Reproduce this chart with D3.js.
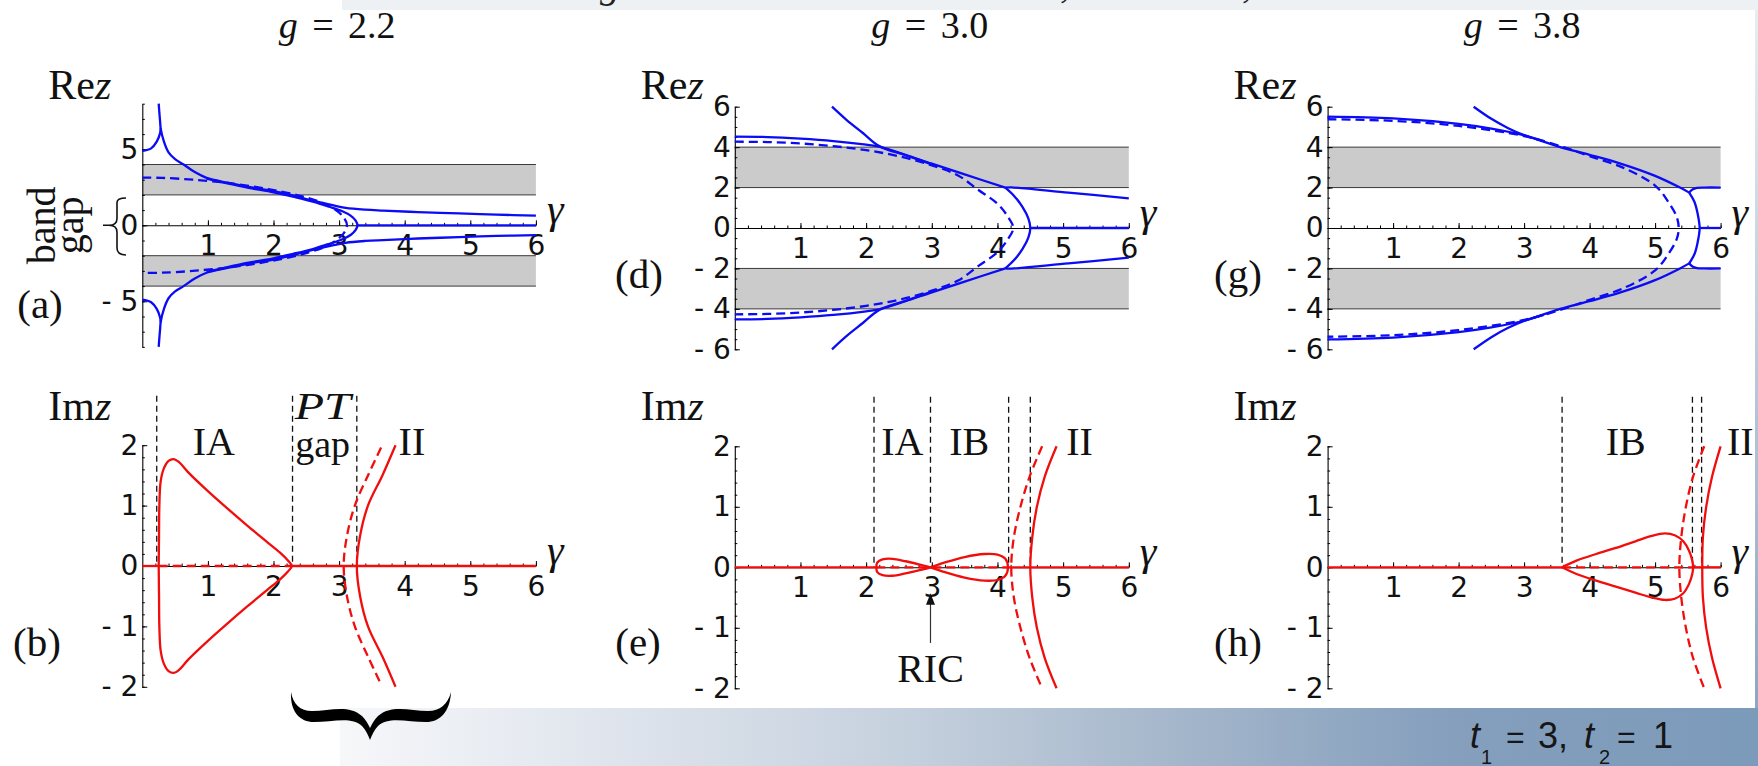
<!DOCTYPE html>
<html>
<head>
<meta charset="utf-8">
<script src="https://cdn.jsdelivr.net/npm/d3@7"></script>
<style>
  html, body { margin: 0; padding: 0; background: #fff; }
  svg { display: block; }
</style>
</head>
<body>
<svg id="fig" width="1758" height="766"></svg>
<script>
// ---------- data ----------
const gammaTicks = [1, 2, 3, 4, 5, 6];
const couplings = ["2.2", "3.0", "3.8"];
const bandLimits = [[2, 4], [-4, -2]];          // shaded continuum bands in Re z
const reTicksA = [-5, 0, 5];
const reTicksDG = [-6, -4, -2, 0, 2, 4, 6];
const imTicks = [-2, -1, 0, 1, 2];

// (a) g = 2.2, Re z
const aCuspUpper = [[0, 4.89], [0.135, 5.06], [0.22, 5.5], [0.27, 6.05], [0.28, 6.38]];
const aCuspLower = [[0, -4.89], [0.135, -5.06], [0.22, -5.5], [0.27, -6.05], [0.28, -6.38]];
const aBranchUpper = [[0.25, 8.0], [0.262, 7.3], [0.272, 6.8], [0.28, 6.38], [0.33, 5.5], [0.40, 4.8], [0.5, 4.35], [0.63, 4.0], [0.8, 3.5], [0.98, 3.12], [1.3, 2.8], [1.62, 2.52], [2.0, 2.25], [2.26, 2.0], [2.6, 1.62], [2.9, 1.32], [3.1, 1.15], [3.4, 1.03], [3.67, 0.97], [4.2, 0.87], [4.83, 0.78], [5.4, 0.7], [6.0, 0.64]];
const aBranchLower = [[0.25, -8.0], [0.262, -7.3], [0.272, -6.8], [0.28, -6.38], [0.33, -5.5], [0.40, -4.8], [0.5, -4.35], [0.63, -4.0], [0.8, -3.5], [0.98, -3.12], [1.3, -2.8], [1.62, -2.52], [2.0, -2.25], [2.26, -2.0], [2.6, -1.62], [2.9, -1.32], [3.1, -1.15], [3.4, -1.03], [3.67, -0.97], [4.2, -0.87], [4.83, -0.78], [5.4, -0.7], [6.0, -0.64]];
const aLoop = [[0.98, 3.07], [1.3, 2.75], [1.62, 2.46], [2.0, 2.17], [2.3, 1.88], [2.6, 1.56], [2.85, 1.22], [3.05, 0.92], [3.18, 0.62], [3.25, 0.32], [3.28, 0], [3.25, -0.32], [3.18, -0.62], [3.05, -0.92], [2.85, -1.22], [2.6, -1.56], [2.3, -1.88], [2.0, -2.17], [1.62, -2.46], [1.3, -2.75], [0.98, -3.07]];
const aDashed = [[0, 3.13], [0.3, 3.12], [0.77, 3.0], [1.33, 2.77], [1.92, 2.38], [2.44, 1.9], [2.85, 1.28], [3.06, 0.58], [3.12, 0], [3.06, -0.58], [2.85, -1.28], [2.44, -1.9], [1.92, -2.38], [1.33, -2.77], [0.77, -3.0], [0.3, -3.12], [0, -3.13]];
const aZero = [[3.28, 0], [6, 0]];

// (d) g = 3.0, Re z
const dOuterUpper = [[0, 4.52], [0.5, 4.5], [1.0, 4.42], [1.5, 4.3], [2.0, 4.12], [2.2, 4.02], [2.6, 3.62], [3.0, 3.18], [3.5, 2.65], [4.12, 2.0]];
const dOuterLower = [[0, -4.52], [0.5, -4.5], [1.0, -4.42], [1.5, -4.3], [2.0, -4.12], [2.2, -4.02], [2.6, -3.62], [3.0, -3.18], [3.5, -2.65], [4.12, -2.0]];
const dSteepUpper = [[1.48, 6.0], [1.7, 5.35], [1.95, 4.7], [2.2, 4.05], [2.6, 3.6], [3.0, 3.15]];
const dSteepLower = [[1.48, -6.0], [1.7, -5.35], [1.95, -4.7], [2.2, -4.05], [2.6, -3.6], [3.0, -3.15]];
const dTailUpper = [[4.12, 2.0], [4.21, 2.01], [5.08, 1.75], [6.0, 1.47]];
const dTailLower = [[4.12, -2.0], [4.21, -2.01], [5.08, -1.75], [6.0, -1.47]];
const dTurn = [[4.12, 2.0], [4.25, 1.6], [4.38, 1.05], [4.47, 0.48], [4.5, 0], [4.47, -0.48], [4.38, -1.05], [4.25, -1.6], [4.12, -2.0]];
const dDashed = [[0, 4.27], [0.5, 4.25], [1, 4.18], [1.5, 4.05], [2, 3.85], [2.5, 3.55], [3, 3.1], [3.4, 2.6], [3.7, 1.9], [4.0, 1.2], [4.15, 0.6], [4.24, 0], [4.15, -0.6], [4.0, -1.2], [3.7, -1.9], [3.4, -2.6], [3, -3.1], [2.5, -3.55], [2, -3.85], [1.5, -4.05], [1, -4.18], [0.5, -4.25], [0, -4.27]];
const dZero = [[4.5, 0], [6, 0]];

// (g) g = 3.8, Re z
const gOuterUpper = [[0, 5.51], [1, 5.42], [2, 5.15], [2.5, 4.92], [2.98, 4.6], [3.55, 4.0], [4.0, 3.62], [4.46, 3.2], [5.0, 2.58], [5.38, 2.0], [5.52, 1.75]];
const gOuterLower = [[0, -5.51], [1, -5.42], [2, -5.15], [2.5, -4.92], [2.98, -4.6], [3.55, -4.0], [4.0, -3.62], [4.46, -3.2], [5.0, -2.58], [5.38, -2.0], [5.52, -1.75]];
const gSteepUpper = [[2.23, 6.0], [2.5, 5.4], [2.75, 4.95], [2.98, 4.62], [3.3, 4.3]];
const gSteepLower = [[2.23, -6.0], [2.5, -5.4], [2.75, -4.95], [2.98, -4.62], [3.3, -4.3]];
const gTurn = [[5.52, 1.75], [5.6, 1.3], [5.65, 0.7], [5.68, 0], [5.65, -0.7], [5.6, -1.3], [5.52, -1.75]];
const gTailUpper = [[5.52, 1.75], [5.57, 1.9], [5.64, 1.98], [5.75, 2.0], [6, 2.0]];
const gTailLower = [[5.52, -1.75], [5.57, -1.9], [5.64, -1.98], [5.75, -2.0], [6, -2.0]];
const gDashed = [[0, 5.38], [1, 5.3], [2, 5.05], [3, 4.55], [3.6, 4.0], [4.0, 3.55], [4.5, 3.0], [5.0, 2.1], [5.2, 1.3], [5.33, 0.55], [5.36, 0], [5.33, -0.55], [5.2, -1.3], [5.0, -2.1], [4.5, -3.0], [4.0, -3.55], [3.6, -4.0], [3, -4.55], [2, -5.05], [1, -5.3], [0, -5.38]];
const gZero = [[5.68, 0], [6, 0]];

// (b) g = 2.2, Im z
const bLoop = [[0.25, 0], [0.255, 0.5], [0.26, 1.0], [0.28, 1.4], [0.33, 1.62], [0.4, 1.74], [0.48, 1.77], [0.56, 1.72], [0.7, 1.55], [1.0, 1.24], [1.3, 0.95], [1.6, 0.67], [1.9, 0.4], [2.1, 0.22], [2.22, 0.09], [2.28, 0], [2.22, -0.09], [2.1, -0.22], [1.9, -0.4], [1.6, -0.67], [1.3, -0.95], [1.0, -1.24], [0.7, -1.55], [0.56, -1.72], [0.48, -1.77], [0.4, -1.74], [0.33, -1.62], [0.28, -1.4], [0.26, -1.0], [0.255, -0.5], [0.25, 0]];
const bOuter = [[3.86, 2.0], [3.66, 1.5], [3.44, 1.0], [3.32, 0.5], [3.27, 0], [3.32, -0.5], [3.44, -1.0], [3.66, -1.5], [3.86, -2.0]];
const bDashed = [[3.64, 1.96], [3.44, 1.5], [3.24, 1.0], [3.12, 0.5], [3.07, 0], [3.12, -0.5], [3.24, -1.0], [3.44, -1.5], [3.64, -1.96]];
const bRealSolid = [[[0, 0], [0.25, 0]], [[2.28, 0], [6, 0]]];
const bRealDashed = [[0.25, 0], [2.28, 0]];
const bBoundaries = [0.22, 2.29, 3.27];

// (e) g = 3.0, Im z
const eLoop = [[2.98, 0], [2.8, 0.05], [2.6, 0.1], [2.4, 0.14], [2.25, 0.13], [2.17, 0.08], [2.155, 0], [2.17, -0.08], [2.25, -0.13], [2.4, -0.14], [2.6, -0.1], [2.8, -0.05], [2.98, 0], [3.2, 0.08], [3.5, 0.17], [3.8, 0.22], [4.0, 0.21], [4.12, 0.14], [4.16, 0], [4.12, -0.14], [4.0, -0.21], [3.8, -0.22], [3.5, -0.17], [3.2, -0.08], [2.98, 0]];
const eOuter = [[4.9, 2.0], [4.72, 1.5], [4.6, 1.0], [4.53, 0.5], [4.5, 0], [4.53, -0.5], [4.6, -1.0], [4.72, -1.5], [4.9, -2.0]];
const eDashed = [[4.68, 2.0], [4.49, 1.5], [4.35, 1.0], [4.25, 0.5], [4.21, 0], [4.25, -0.5], [4.35, -1.0], [4.49, -1.5], [4.68, -2.0]];
const eRealSolid = [[[0, 0], [2.155, 0]], [[4.16, 0], [6, 0]]];
const eRealDashed = [[2.155, 0], [4.16, 0]];
const eBoundaries = [2.12, 2.98, 4.17, 4.5];
const ricPoint = 2.98;

// (h) g = 3.8, Im z
const hLoop = [[3.58, 0], [3.8, 0.11], [4.1, 0.22], [4.4, 0.32], [4.7, 0.43], [4.95, 0.52], [5.15, 0.56], [5.3, 0.53], [5.43, 0.43], [5.52, 0.27], [5.57, 0.1], [5.58, 0], [5.57, -0.1], [5.52, -0.27], [5.43, -0.43], [5.3, -0.52], [5.15, -0.54], [4.95, -0.5], [4.7, -0.42], [4.4, -0.32], [4.1, -0.22], [3.8, -0.11], [3.58, 0]];
const hOuter = [[6.0, 2.0], [5.87, 1.5], [5.78, 1.0], [5.73, 0.5], [5.72, 0], [5.73, -0.5], [5.78, -1.0], [5.87, -1.5], [6.0, -2.0]];
const hDashed = [[5.75, 2.0], [5.58, 1.5], [5.47, 1.0], [5.40, 0.5], [5.37, 0], [5.40, -0.5], [5.47, -1.0], [5.58, -1.5], [5.75, -2.0]];
const hRealSolid = [[[0, 0], [3.58, 0]], [[5.58, 0], [6, 0]]];
const hRealDashed = [[3.58, 0], [5.58, 0]];
const hBoundaries = [3.58, 5.57, 5.71];

const boundaryTop = 2.82;

// ---------- styling ----------
const BLUE = "#0b0bf5";
const RED = "#f20d0d";
const SERIF = "'Liberation Serif', 'DejaVu Serif', serif";
const SANS = "'DejaVu Sans', sans-serif";
const LW = 2.3;

const svg = d3.select("#fig");
const defs = svg.append("defs");

// slide background: gradient band along the bottom and strip on the right
const bandGrad = defs.append("linearGradient").attr("id", "bottomBand")
  .attr("x1", "0").attr("x2", "1").attr("y1", "0").attr("y2", "0");
[[0, "#f6f7f9"], [0.176, "#e1e6ee"], [0.395, "#c6d1de"], [0.6, "#a3b5ca"], [0.783, "#859fbd"], [1, "#7c9aba"]]
  .forEach(([o, c]) => bandGrad.append("stop").attr("offset", o).attr("stop-color", c));
const sideGrad = defs.append("linearGradient").attr("id", "sideBand")
  .attr("x1", "0").attr("x2", "0").attr("y1", "0").attr("y2", "1");
[[0, "#e8edf2"], [1, "#8ea6c2"]].forEach(([o, c]) => sideGrad.append("stop").attr("offset", o).attr("stop-color", c));

svg.append("rect").attr("x", 0).attr("y", 0).attr("width", 1758).attr("height", 766).attr("fill", "#fff");
svg.append("rect").attr("x", 340).attr("y", 708).attr("width", 1418).attr("height", 58).attr("fill", "url(#bottomBand)");

// strip of the slide heading above the figure
svg.append("rect").attr("x", 342).attr("y", 0).attr("width", 1416).attr("height", 10).attr("fill", "#eef1f4");
defs.append("clipPath").attr("id", "headClip").append("rect")
  .attr("x", 342).attr("y", 0).attr("width", 1416).attr("height", 10);
const head = svg.append("g").attr("clip-path", "url(#headClip)")
  .attr("font-family", SERIF).attr("font-size", 40).attr("fill", "#222");
head.append("text").attr("x", 600).attr("y", -3).attr("font-style", "italic").text("g");
head.append("text").attr("x", 1060).attr("y", -3).text(",");
head.append("text").attr("x", 1242).attr("y", -3).text(",");

// ---------- panel helpers ----------
const cols = [[142.3, 535.9], [734.8, 1128.8], [1327.6, 1720.6]];
const fmt = d => d < 0 ? "- " + Math.abs(d) : String(d);

function makePanel(col, yDomain, yRange, majorY, minorStep) {
  const x = d3.scaleLinear().domain([0, 6]).range(cols[col]);
  const y = d3.scaleLinear().domain(yDomain).range(yRange);
  const g = svg.append("g");
  const p = { x, y, g, bg: g.append("g") };
  p.axes = g.append("g");
  p.fg = g.append("g");

  // y axis: minor ticks, then labelled ticks
  const minorY = d3.range(yDomain[0], yDomain[1] + 1e-9, minorStep);
  p.axes.append("g").attr("transform", `translate(${x(0)},0)`)
    .call(d3.axisLeft(y).tickValues(minorY).tickSize(-2.5).tickFormat(""))
    .call(s => s.select(".domain").remove());
  const ya = p.axes.append("g").attr("transform", `translate(${x(0)},0)`)
    .call(d3.axisLeft(y).tickValues(majorY).tickSize(-5).tickSizeOuter(0).tickPadding(4).tickFormat(fmt));
  // gamma axis along zero
  const minorX = d3.range(0.2, 6 + 1e-9, 0.2);
  p.axes.append("g").attr("transform", `translate(0,${y(0)})`)
    .call(d3.axisBottom(x).tickValues(minorX).tickSize(-2.5).tickFormat(""))
    .call(s => s.select(".domain").remove());
  const xa = p.axes.append("g").attr("transform", `translate(0,${y(0)})`)
    .call(d3.axisBottom(x).tickValues(gammaTicks).tickSize(-5).tickSizeOuter(0).tickPadding(10).tickFormat(d3.format("d")));
  [ya, xa].forEach(a => {
    a.attr("font-family", SANS).attr("font-size", 28);
    a.selectAll("text").attr("fill", "#111");
  });
  p.axes.selectAll("line").attr("stroke", "#000").attr("stroke-width", 1);
  p.axes.selectAll(".domain").attr("stroke", "#000").attr("stroke-width", 1.1);
  return p;
}

const lineGen = p => d3.line().x(d => p.x(d[0])).y(d => p.y(d[1])).curve(d3.curveCatmullRom.alpha(0.5));
const straight = p => d3.line().x(d => p.x(d[0])).y(d => p.y(d[1]));

function curve(p, pts, color, dashed) {
  p.fg.append("path").datum(pts).attr("d", lineGen(p))
    .attr("fill", "none").attr("stroke", color).attr("stroke-width", LW)
    .attr("stroke-linejoin", "round")
    .attr("stroke-dasharray", dashed ? "9,5" : null);
}
function segment(p, pts, color, dashed) {
  p.fg.append("path").datum(pts).attr("d", straight(p))
    .attr("fill", "none").attr("stroke", color).attr("stroke-width", LW)
    .attr("stroke-dasharray", dashed ? "9,5" : null);
}

function shadeBands(p) {
  bandLimits.forEach(([lo, hi]) => {
    p.bg.append("rect").attr("x", p.x(0)).attr("y", p.y(hi))
      .attr("width", p.x(6) - p.x(0)).attr("height", p.y(lo) - p.y(hi)).attr("fill", "#cbcbcb");
    [lo, hi].forEach(v => p.bg.append("line")
      .attr("x1", p.x(0)).attr("x2", p.x(6)).attr("y1", p.y(v)).attr("y2", p.y(v))
      .attr("stroke", "#3a3a3a").attr("stroke-width", 1));
  });
}

function boundaries(p, list) {
  list.forEach(b => p.bg.append("line")
    .attr("x1", p.x(b)).attr("x2", p.x(b)).attr("y1", p.y(boundaryTop)).attr("y2", p.y(0))
    .attr("stroke", "#111").attr("stroke-width", 1.3).attr("stroke-dasharray", "6,4"));
}

function axisTitle(p, kind, base) {
  const t = p.g.append("text").attr("x", p.x(0) - 94).attr("y", base)
    .attr("font-family", SERIF).attr("font-size", 42).attr("fill", "#111");
  t.append("tspan").text(kind);
  t.append("tspan").attr("font-style", "italic").text("z");
  p.g.append("text").attr("x", p.x(6) + 11).attr("y", p.y(0) - 2)
    .attr("font-family", SERIF).attr("font-size", 42).attr("font-style", "italic").attr("fill", "#111").text("γ");
}

function tag(p, label, cx, base) {
  p.g.append("text").attr("x", cx).attr("y", base).attr("text-anchor", "middle")
    .attr("font-family", SERIF).attr("font-size", 41).attr("fill", "#111").text(label);
}

function regionLabel(p, label, gx, base) {
  p.g.append("text").attr("x", p.x(gx)).attr("y", base).attr("text-anchor", "middle")
    .attr("font-family", SERIF).attr("font-size", 40).attr("fill", "#111").text(label);
}

// ---------- column titles ----------
cols.forEach((c, i) => {
  const t = svg.append("text").attr("x", (c[0] + c[1]) / 2 - 2).attr("y", 38)
    .attr("text-anchor", "middle").attr("font-family", SERIF).attr("font-size", 38)
    .attr("word-spacing", 5).attr("fill", "#111");
  t.append("tspan").attr("font-style", "italic").text("g");
  t.append("tspan").text(" = " + couplings[i]);
});

// ---------- (a) ----------
const pa = makePanel(0, [-8, 8], [346.9, 103.7], reTicksA, 1);
shadeBands(pa);
[aCuspUpper, aCuspLower, aBranchUpper, aBranchLower, aLoop].forEach(c => curve(pa, c, BLUE, false));
curve(pa, aDashed, BLUE, true);
segment(pa, aZero, BLUE, false);
axisTitle(pa, "Re", 99);
tag(pa, "(a)", 40, 318);
// band gap bracket
pa.g.append("path")
  .attr("d", `M126,${pa.y(1.8)} Q117,${pa.y(1.8)} 117,${pa.y(1.5)} L117,${pa.y(0.45)} Q117,${pa.y(0)} 109,${pa.y(0)} L103,${pa.y(0)} M109,${pa.y(0)} Q117,${pa.y(0)} 117,${pa.y(-0.45)} L117,${pa.y(-1.5)} Q117,${pa.y(-1.95)} 126,${pa.y(-1.95)}`)
  .attr("fill", "none").attr("stroke", "#111").attr("stroke-width", 1.6);
[["band", 55], ["gap", 83]].forEach(([w, bx]) => {
  pa.g.append("text").attr("transform", `translate(${bx},${pa.y(0)}) rotate(-90)`)
    .attr("text-anchor", "middle").attr("font-family", SERIF).attr("font-size", 40)
    .attr("fill", "#111").text(w);
});

// ---------- (d) ----------
const pd = makePanel(1, [-6, 6], [349.3, 106.7], reTicksDG, 0.5);
shadeBands(pd);
[dOuterUpper, dOuterLower, dSteepUpper, dSteepLower, dTailUpper, dTailLower, dTurn].forEach(c => curve(pd, c, BLUE, false));
curve(pd, dDashed, BLUE, true);
segment(pd, dZero, BLUE, false);
axisTitle(pd, "Re", 99);
tag(pd, "(d)", 639, 288);

// ---------- (g) ----------
const pg = makePanel(2, [-6, 6], [349.3, 106.7], reTicksDG, 0.5);
shadeBands(pg);
[gOuterUpper, gOuterLower, gSteepUpper, gSteepLower, gTurn, gTailUpper, gTailLower].forEach(c => curve(pg, c, BLUE, false));
curve(pg, gDashed, BLUE, true);
segment(pg, gZero, BLUE, false);
axisTitle(pg, "Re", 99);
tag(pg, "(g)", 1238, 288);

// ---------- (b) ----------
const pb = makePanel(0, [-2, 2], [686.8, 445.2], imTicks, 0.2);
boundaries(pb, bBoundaries);
bRealSolid.forEach(s => segment(pb, s, RED, false));
segment(pb, bRealDashed, RED, true);
curve(pb, bLoop, RED, false);
curve(pb, bOuter, RED, false);
curve(pb, bDashed, RED, true);
axisTitle(pb, "Im", 420);
tag(pb, "(b)", 37, 656);
regionLabel(pb, "IA", 1.09, 455);
regionLabel(pb, "II", 4.11, 455);
pb.g.append("text").attr("x", pb.x(2.75)).attr("y", 419).attr("text-anchor", "middle")
  .attr("font-family", SERIF).attr("font-size", 38).attr("font-style", "italic")
  .attr("textLength", 56).attr("lengthAdjust", "spacingAndGlyphs").attr("fill", "#111").text("PT");
pb.g.append("text").attr("x", pb.x(2.75)).attr("y", 457).attr("text-anchor", "middle")
  .attr("font-family", SERIF).attr("font-size", 38).attr("fill", "#111").text("gap");

// ---------- (e) ----------
const pe = makePanel(1, [-2, 2], [688.3, 446.3], imTicks, 0.2);
boundaries(pe, eBoundaries);
eRealSolid.forEach(s => segment(pe, s, RED, false));
segment(pe, eRealDashed, RED, true);
curve(pe, eLoop, RED, false);
curve(pe, eOuter, RED, false);
curve(pe, eDashed, RED, true);
axisTitle(pe, "Im", 420);
tag(pe, "(e)", 638, 656);
regionLabel(pe, "IA", 2.55, 455);
regionLabel(pe, "IB", 3.57, 455);
regionLabel(pe, "II", 5.25, 455);
// RIC marker
pe.g.append("line").attr("x1", pe.x(ricPoint)).attr("x2", pe.x(ricPoint))
  .attr("y1", pe.y(-1.25)).attr("y2", pe.y(-0.55)).attr("stroke", "#333").attr("stroke-width", 1.2);
pe.g.append("path")
  .attr("d", `M${pe.x(ricPoint)},${pe.y(-0.43)} L${pe.x(ricPoint) - 4.5},${pe.y(-0.62)} L${pe.x(ricPoint) + 4.5},${pe.y(-0.62)} Z`)
  .attr("fill", "#111");
pe.g.append("text").attr("x", pe.x(ricPoint)).attr("y", 682).attr("text-anchor", "middle")
  .attr("font-family", SERIF).attr("font-size", 40).attr("fill", "#111").text("RIC");

// ---------- (h) ----------
const ph = makePanel(2, [-2, 2], [688.3, 446.3], imTicks, 0.2);
boundaries(ph, hBoundaries);
hRealSolid.forEach(s => segment(ph, s, RED, false));
segment(ph, hRealDashed, RED, true);
curve(ph, hLoop, RED, false);
curve(ph, hOuter, RED, false);
curve(ph, hDashed, RED, true);
axisTitle(ph, "Im", 420);
tag(ph, "(h)", 1238, 656);
regionLabel(ph, "IB", 4.55, 455);
regionLabel(ph, "II", 6.3, 455);

// right margin of the slide, over the panel edge
svg.append("rect").attr("x", 1755).attr("y", 10).attr("width", 3).attr("height", 698).attr("fill", "url(#sideBand)");

// ---------- brace below (b) ----------
svg.append("path")
  .attr("d", "M291,692 C290,712 300,722 314,722 C332,722 352,716 362,726 C366,730 368,735 370,740 C372,735 374,730 378,726 C388,716 408,722 426,722 C440,722 450,712 451,692 C448,704 440,711 428,711 C410,711 392,704 378,716 C374,720 372,724 370,728 C368,724 366,720 362,716 C348,704 330,711 312,711 C300,711 293,704 291,692 Z")
  .attr("fill", "#000");

// ---------- hopping amplitudes ----------
const hop = svg.append("g").attr("font-family", "'Liberation Sans', 'DejaVu Sans', sans-serif").attr("fill", "#161616");
[["t", 1470, 748, 36, "italic"], ["1", 1481, 764, 20, "normal"], ["=", 1506, 748, 32, "normal"], ["3,", 1538, 748, 36, "normal"],
 ["t", 1584, 748, 36, "italic"], ["2", 1599, 764, 20, "normal"], ["=", 1617, 748, 32, "normal"], ["1", 1653, 748, 36, "normal"]]
  .forEach(([s, x, y, fs, st]) => hop.append("text").attr("x", x).attr("y", y).attr("font-size", fs).attr("font-style", st).text(s));
</script>
</body>
</html>
